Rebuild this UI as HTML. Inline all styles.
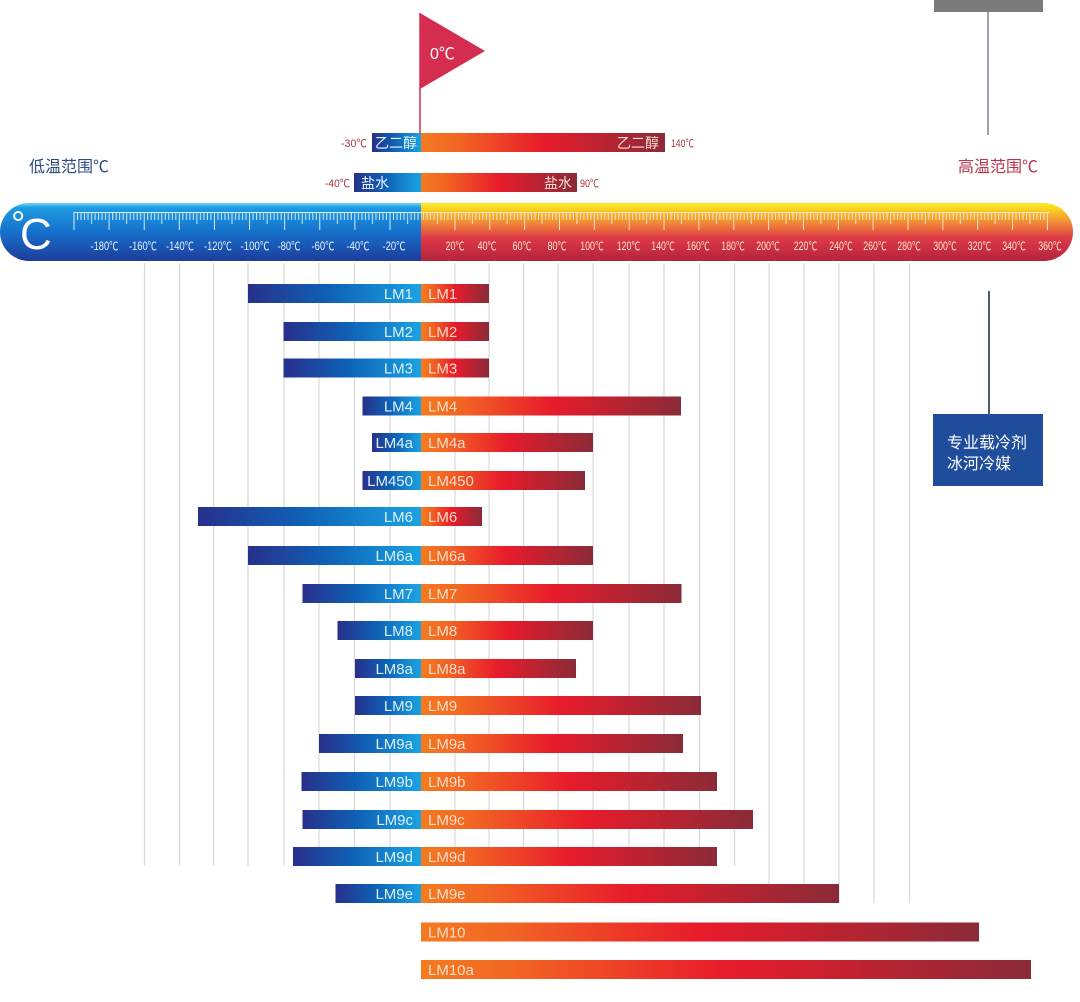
<!DOCTYPE html>
<html><head><meta charset="utf-8">
<style>
html,body{margin:0;padding:0;background:#fff;}
svg{display:block;}
text{font-family:"Liberation Sans","Noto Sans CJK SC",sans-serif;}
.cjk{font-family:"Noto Sans CJK SC","WenQuanYi Zen Hei",sans-serif;}
</style></head>
<body>
<svg width="1080" height="1002" viewBox="0 0 1080 1002" xmlns="http://www.w3.org/2000/svg">
<defs>
  <linearGradient id="gb" x1="0" y1="0" x2="1" y2="0">
    <stop offset="0" stop-color="#28308b"/>
    <stop offset="0.45" stop-color="#0f5fb4"/>
    <stop offset="1" stop-color="#1aa3e3"/>
  </linearGradient>
  <linearGradient id="gr" x1="0" y1="0" x2="1" y2="0">
    <stop offset="0" stop-color="#f47b20"/>
    <stop offset="0.15" stop-color="#f26623"/>
    <stop offset="0.5" stop-color="#e81b2b"/>
    <stop offset="1" stop-color="#8a2b38"/>
  </linearGradient>
  <linearGradient id="rb" x1="0" y1="0" x2="0" y2="1">
    <stop offset="0" stop-color="#6fd6f7"/>
    <stop offset="0.08" stop-color="#1d9be1"/>
    <stop offset="0.5" stop-color="#1670cb"/>
    <stop offset="1" stop-color="#1e3c9b"/>
  </linearGradient>
  <linearGradient id="rr" x1="0" y1="0" x2="0" y2="1">
    <stop offset="0" stop-color="#fdec2a"/>
    <stop offset="0.1" stop-color="#f9d41f"/>
    <stop offset="0.32" stop-color="#f18f35"/>
    <stop offset="0.6" stop-color="#df3a46"/>
    <stop offset="1" stop-color="#b4233d"/>
  </linearGradient>
  <clipPath id="rc"><rect x="0" y="203" width="1073" height="58" rx="29" ry="29"/></clipPath>
  <pattern id="tl" patternUnits="userSpaceOnUse" x="73.5" y="212" width="35.111" height="20">
    <g stroke="#d4eefb" stroke-width="1">
      <line x1="0.5" y1="0" x2="0.5" y2="18"/>
      <line x1="4.01" y1="0" x2="4.01" y2="8"/>
      <line x1="7.52" y1="0" x2="7.52" y2="8"/>
      <line x1="11.03" y1="0" x2="11.03" y2="8"/>
      <line x1="14.54" y1="0" x2="14.54" y2="8"/>
      <line x1="18.06" y1="0" x2="18.06" y2="12"/>
      <line x1="21.57" y1="0" x2="21.57" y2="8"/>
      <line x1="25.08" y1="0" x2="25.08" y2="8"/>
      <line x1="28.59" y1="0" x2="28.59" y2="8"/>
      <line x1="32.1" y1="0" x2="32.1" y2="8"/>
    </g>
  </pattern>
  <pattern id="tr" patternUnits="userSpaceOnUse" x="419.6" y="212" width="34.85" height="20">
    <g stroke="#fde2c8" stroke-width="1">
      <line x1="0.5" y1="0" x2="0.5" y2="18"/>
      <line x1="3.98" y1="0" x2="3.98" y2="8"/>
      <line x1="7.47" y1="0" x2="7.47" y2="8"/>
      <line x1="10.95" y1="0" x2="10.95" y2="8"/>
      <line x1="14.44" y1="0" x2="14.44" y2="8"/>
      <line x1="17.92" y1="0" x2="17.92" y2="12"/>
      <line x1="21.41" y1="0" x2="21.41" y2="8"/>
      <line x1="24.89" y1="0" x2="24.89" y2="8"/>
      <line x1="28.38" y1="0" x2="28.38" y2="8"/>
      <line x1="31.86" y1="0" x2="31.86" y2="8"/>
    </g>
  </pattern>
</defs>

<!-- top right gray tab -->
<rect x="934" y="0" width="109" height="12" fill="#7b7b7b"/>
<line x1="988" y1="12" x2="988" y2="135" stroke="#7e8390" stroke-width="1.5"/>

<!-- range titles -->
<text class="cjk" x="29" y="172" font-size="16" fill="#2b4a82">低温范围℃</text>
<text class="cjk" x="958" y="172" font-size="16" fill="#b4324f">高温范围℃</text>

<!-- flag -->
<line x1="420" y1="13" x2="420" y2="133" stroke="#d42d4f" stroke-width="1.5"/>
<polygon points="420,13 485,51 420,89" fill="#d42d4f"/>
<text x="430" y="59" font-size="16" fill="#ffffff">0℃</text>

<!-- glycol bar -->
<rect x="372" y="133" width="49" height="19" fill="url(#gb)"/>
<rect x="421" y="133" width="244" height="19" fill="url(#gr)"/>
<text class="cjk" x="375" y="148" font-size="14" fill="#eaf5fd">乙二醇</text>
<text class="cjk" x="617" y="148" font-size="14" fill="#fbdcd6">乙二醇</text>
<text x="341" y="147" font-size="11" fill="#a5343f" textLength="26" lengthAdjust="spacingAndGlyphs">-30℃</text>
<text x="671" y="147" font-size="11" fill="#a5343f" textLength="23" lengthAdjust="spacingAndGlyphs">140℃</text>

<!-- brine bar -->
<rect x="354" y="173" width="67" height="19" fill="url(#gb)"/>
<rect x="421" y="173" width="156" height="19" fill="url(#gr)"/>
<text class="cjk" x="361" y="188" font-size="14" fill="#eaf5fd">盐水</text>
<text class="cjk" x="544" y="188" font-size="14" fill="#fbdcd6">盐水</text>
<text x="325" y="187" font-size="11" fill="#a5343f" textLength="25" lengthAdjust="spacingAndGlyphs">-40℃</text>
<text x="580" y="187" font-size="11" fill="#a5343f" textLength="19" lengthAdjust="spacingAndGlyphs">90℃</text>

<!-- ruler -->
<g clip-path="url(#rc)">
  <rect x="0" y="203" width="422" height="58" fill="url(#rb)"/>
  <rect x="421" y="203" width="660" height="58" fill="url(#rr)"/>
</g>
<line x1="74" y1="212.5" x2="422" y2="212.5" stroke="#d4eefb" stroke-width="1"/>
<line x1="421" y1="212.5" x2="1049" y2="212.5" stroke="#fde2c8" stroke-width="1"/>
<rect x="73.5" y="212" width="348" height="20" fill="url(#tl)"/>
<rect x="421.5" y="212" width="628" height="20" fill="url(#tr)"/>
<text x="11" y="236" font-size="36" fill="#ffffff">°</text>
<text x="20" y="249" font-size="44" fill="#ffffff">C</text>

<g font-size="11.5" fill="#e6f4fc" text-anchor="middle">
  <text x="104.5" y="250" textLength="28" lengthAdjust="spacingAndGlyphs">-180℃</text>
  <text x="143" y="250" textLength="28" lengthAdjust="spacingAndGlyphs">-160℃</text>
  <text x="180" y="250" textLength="28" lengthAdjust="spacingAndGlyphs">-140℃</text>
  <text x="218" y="250" textLength="28" lengthAdjust="spacingAndGlyphs">-120℃</text>
  <text x="255" y="250" textLength="29" lengthAdjust="spacingAndGlyphs">-100℃</text>
  <text x="289" y="250" textLength="23" lengthAdjust="spacingAndGlyphs">-80℃</text>
  <text x="323" y="250" textLength="23" lengthAdjust="spacingAndGlyphs">-60℃</text>
  <text x="358" y="250" textLength="23" lengthAdjust="spacingAndGlyphs">-40℃</text>
  <text x="394" y="250" textLength="23" lengthAdjust="spacingAndGlyphs">-20℃</text>
</g>
<g font-size="11.5" fill="#fde3d6" text-anchor="middle">
  <text x="455" y="250" textLength="19" lengthAdjust="spacingAndGlyphs">20℃</text>
  <text x="487" y="250" textLength="19" lengthAdjust="spacingAndGlyphs">40℃</text>
  <text x="522" y="250" textLength="19" lengthAdjust="spacingAndGlyphs">60℃</text>
  <text x="557" y="250" textLength="19" lengthAdjust="spacingAndGlyphs">80℃</text>
  <text x="592" y="250" textLength="23.5" lengthAdjust="spacingAndGlyphs">100℃</text>
  <text x="628.5" y="250" textLength="23.5" lengthAdjust="spacingAndGlyphs">120℃</text>
  <text x="663" y="250" textLength="23.5" lengthAdjust="spacingAndGlyphs">140℃</text>
  <text x="698" y="250" textLength="23.5" lengthAdjust="spacingAndGlyphs">160℃</text>
  <text x="733" y="250" textLength="23.5" lengthAdjust="spacingAndGlyphs">180℃</text>
  <text x="768" y="250" textLength="23.5" lengthAdjust="spacingAndGlyphs">200℃</text>
  <text x="805.5" y="250" textLength="23.5" lengthAdjust="spacingAndGlyphs">220℃</text>
  <text x="841" y="250" textLength="23.5" lengthAdjust="spacingAndGlyphs">240℃</text>
  <text x="875" y="250" textLength="23.5" lengthAdjust="spacingAndGlyphs">260℃</text>
  <text x="909" y="250" textLength="23.5" lengthAdjust="spacingAndGlyphs">280℃</text>
  <text x="945" y="250" textLength="23.5" lengthAdjust="spacingAndGlyphs">300℃</text>
  <text x="979.5" y="250" textLength="23.5" lengthAdjust="spacingAndGlyphs">320℃</text>
  <text x="1014" y="250" textLength="23.5" lengthAdjust="spacingAndGlyphs">340℃</text>
  <text x="1050" y="250" textLength="23.5" lengthAdjust="spacingAndGlyphs">360℃</text>
</g>

<!-- grid lines -->
<g stroke="#d8d8dc" stroke-width="1.2">
  <line x1="144.5" y1="263" x2="144.5" y2="866"/>
  <line x1="179.5" y1="263" x2="179.5" y2="866"/>
  <line x1="213.5" y1="263" x2="213.5" y2="866"/>
  <line x1="248" y1="263" x2="248" y2="866"/>
  <line x1="284" y1="263" x2="284" y2="866"/>
  <line x1="319" y1="263" x2="319" y2="866"/>
  <line x1="354.5" y1="263" x2="354.5" y2="866"/>
  <line x1="390" y1="263" x2="390" y2="866"/>
  <line x1="455" y1="263" x2="455" y2="866"/>
  <line x1="489" y1="263" x2="489" y2="866"/>
  <line x1="523.5" y1="263" x2="523.5" y2="866"/>
  <line x1="558" y1="263" x2="558" y2="866"/>
  <line x1="593" y1="263" x2="593" y2="866"/>
  <line x1="629" y1="263" x2="629" y2="866"/>
  <line x1="664" y1="263" x2="664" y2="866"/>
  <line x1="699.5" y1="263" x2="699.5" y2="866"/>
  <line x1="734.5" y1="263" x2="734.5" y2="866"/>
  <line x1="769" y1="263" x2="769" y2="903"/>
  <line x1="804" y1="263" x2="804" y2="903"/>
  <line x1="839" y1="263" x2="839" y2="903"/>
  <line x1="874" y1="263" x2="874" y2="903"/>
  <line x1="909.5" y1="263" x2="909.5" y2="903"/>
</g>

<!-- right box -->
<line x1="989" y1="291" x2="989" y2="414" stroke="#4f5a72" stroke-width="2"/>
<rect x="933" y="414" width="110" height="72" fill="#1f4d9b"/>
<text class="cjk" x="947" y="448" font-size="16" fill="#ffffff">专业载冷剂</text>
<text class="cjk" x="947" y="469" font-size="16" fill="#ffffff">冰河冷媒</text>

<!-- bars -->
<g font-size="15">
  <!-- LM1 -->
  <rect x="248" y="284" width="173" height="19" fill="url(#gb)"/>
  <rect x="421" y="284" width="68" height="19" fill="url(#gr)"/>
  <text x="413" y="299" text-anchor="end" fill="#dcefFa">LM1</text>
  <text x="428" y="299" fill="#fcdcc8">LM1</text>
  <!-- LM2 -->
  <rect x="283.5" y="322" width="137.5" height="19" fill="url(#gb)"/>
  <rect x="421" y="322" width="68" height="19" fill="url(#gr)"/>
  <text x="413" y="337" text-anchor="end" fill="#dcefFa">LM2</text>
  <text x="428" y="337" fill="#fcdcc8">LM2</text>
  <!-- LM3 -->
  <rect x="283.5" y="358.5" width="137.5" height="19" fill="url(#gb)"/>
  <rect x="421" y="358.5" width="68" height="19" fill="url(#gr)"/>
  <text x="413" y="373.5" text-anchor="end" fill="#dcefFa">LM3</text>
  <text x="428" y="373.5" fill="#fcdcc8">LM3</text>
  <!-- LM4 -->
  <rect x="362.5" y="396.5" width="58.5" height="19" fill="url(#gb)"/>
  <rect x="421" y="396.5" width="260" height="19" fill="url(#gr)"/>
  <text x="413" y="411.5" text-anchor="end" fill="#dcefFa">LM4</text>
  <text x="428" y="411.5" fill="#fcdcc8">LM4</text>
  <!-- LM4a -->
  <rect x="372" y="433" width="49" height="19" fill="url(#gb)"/>
  <rect x="421" y="433" width="172" height="19" fill="url(#gr)"/>
  <text x="413" y="448" text-anchor="end" fill="#dcefFa">LM4a</text>
  <text x="428" y="448" fill="#fcdcc8">LM4a</text>
  <!-- LM450 -->
  <rect x="362.5" y="471" width="58.5" height="19" fill="url(#gb)"/>
  <rect x="421" y="471" width="164" height="19" fill="url(#gr)"/>
  <text x="413" y="486" text-anchor="end" fill="#dcefFa">LM450</text>
  <text x="428" y="486" fill="#fcdcc8">LM450</text>
  <!-- LM6 -->
  <rect x="198" y="507" width="223" height="19" fill="url(#gb)"/>
  <rect x="421" y="507" width="61" height="19" fill="url(#gr)"/>
  <text x="413" y="522" text-anchor="end" fill="#dcefFa">LM6</text>
  <text x="428" y="522" fill="#fcdcc8">LM6</text>
  <!-- LM6a -->
  <rect x="248" y="546" width="173" height="19" fill="url(#gb)"/>
  <rect x="421" y="546" width="172" height="19" fill="url(#gr)"/>
  <text x="413" y="561" text-anchor="end" fill="#dcefFa">LM6a</text>
  <text x="428" y="561" fill="#fcdcc8">LM6a</text>
  <!-- LM7 -->
  <rect x="302.5" y="584" width="118.5" height="19" fill="url(#gb)"/>
  <rect x="421" y="584" width="260.5" height="19" fill="url(#gr)"/>
  <text x="413" y="599" text-anchor="end" fill="#dcefFa">LM7</text>
  <text x="428" y="599" fill="#fcdcc8">LM7</text>
  <!-- LM8 -->
  <rect x="337.5" y="621" width="83.5" height="19" fill="url(#gb)"/>
  <rect x="421" y="621" width="172" height="19" fill="url(#gr)"/>
  <text x="413" y="636" text-anchor="end" fill="#dcefFa">LM8</text>
  <text x="428" y="636" fill="#fcdcc8">LM8</text>
  <!-- LM8a -->
  <rect x="355" y="659" width="66" height="19" fill="url(#gb)"/>
  <rect x="421" y="659" width="155" height="19" fill="url(#gr)"/>
  <text x="413" y="674" text-anchor="end" fill="#dcefFa">LM8a</text>
  <text x="428" y="674" fill="#fcdcc8">LM8a</text>
  <!-- LM9 -->
  <rect x="355" y="696" width="66" height="19" fill="url(#gb)"/>
  <rect x="421" y="696" width="280" height="19" fill="url(#gr)"/>
  <text x="413" y="711" text-anchor="end" fill="#dcefFa">LM9</text>
  <text x="428" y="711" fill="#fcdcc8">LM9</text>
  <!-- LM9a -->
  <rect x="319" y="734" width="102" height="19" fill="url(#gb)"/>
  <rect x="421" y="734" width="262" height="19" fill="url(#gr)"/>
  <text x="413" y="749" text-anchor="end" fill="#dcefFa">LM9a</text>
  <text x="428" y="749" fill="#fcdcc8">LM9a</text>
  <!-- LM9b -->
  <rect x="301.5" y="772" width="119.5" height="19" fill="url(#gb)"/>
  <rect x="421" y="772" width="296" height="19" fill="url(#gr)"/>
  <text x="413" y="787" text-anchor="end" fill="#dcefFa">LM9b</text>
  <text x="428" y="787" fill="#fcdcc8">LM9b</text>
  <!-- LM9c -->
  <rect x="302.5" y="810" width="118.5" height="19" fill="url(#gb)"/>
  <rect x="421" y="810" width="332" height="19" fill="url(#gr)"/>
  <text x="413" y="825" text-anchor="end" fill="#dcefFa">LM9c</text>
  <text x="428" y="825" fill="#fcdcc8">LM9c</text>
  <!-- LM9d -->
  <rect x="293" y="847" width="128" height="19" fill="url(#gb)"/>
  <rect x="421" y="847" width="296" height="19" fill="url(#gr)"/>
  <text x="413" y="862" text-anchor="end" fill="#dcefFa">LM9d</text>
  <text x="428" y="862" fill="#fcdcc8">LM9d</text>
  <!-- LM9e -->
  <rect x="335.5" y="884" width="85.5" height="19" fill="url(#gb)"/>
  <rect x="421" y="884" width="418" height="19" fill="url(#gr)"/>
  <text x="413" y="899" text-anchor="end" fill="#dcefFa">LM9e</text>
  <text x="428" y="899" fill="#fcdcc8">LM9e</text>
  <!-- LM10 -->
  <rect x="421" y="922.5" width="558" height="19" fill="url(#gr)"/>
  <text x="428" y="937.5" fill="#fcdcc8">LM10</text>
  <!-- LM10a -->
  <rect x="421" y="960" width="610" height="19" fill="url(#gr)"/>
  <text x="428" y="975" fill="#fcdcc8">LM10a</text>
</g>
</svg>
</body></html>
